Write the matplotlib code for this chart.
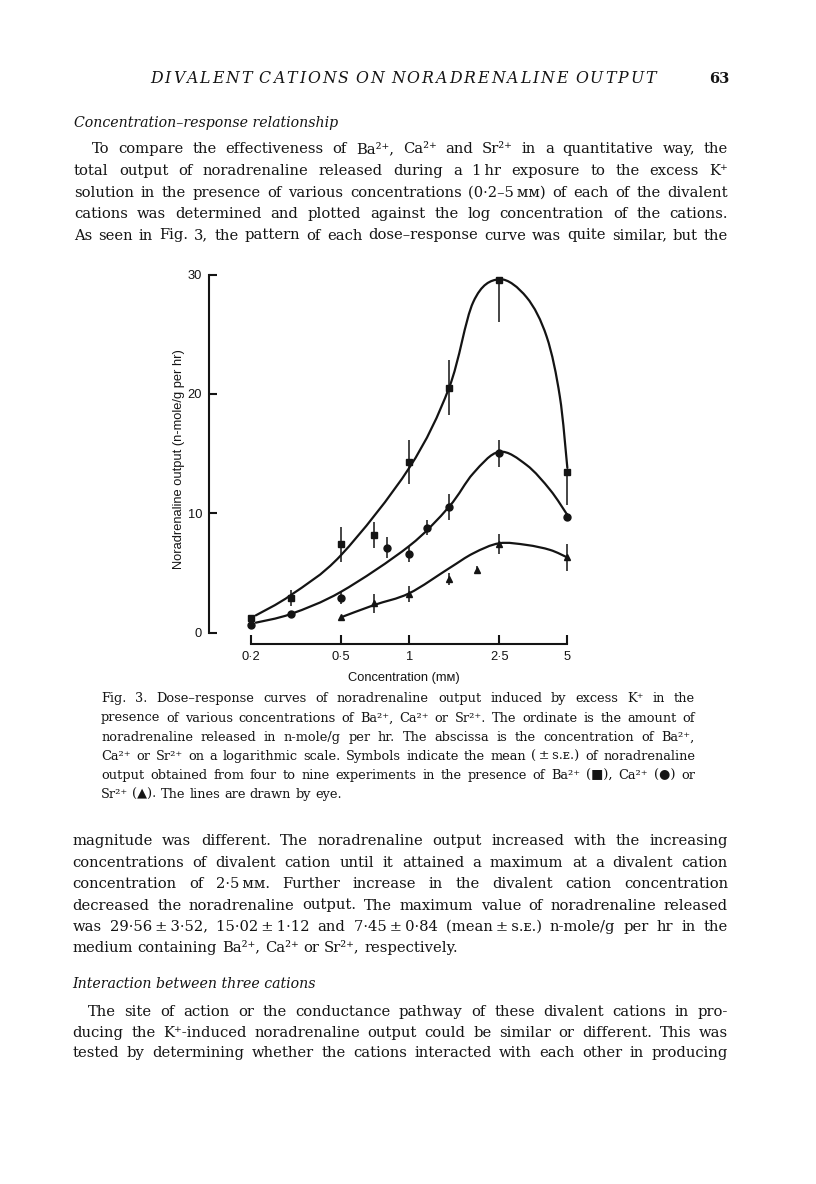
import numpy as np
import matplotlib
matplotlib.use('Agg')
import matplotlib.pyplot as plt
from matplotlib.path import Path
from matplotlib.patches import PathPatch

# ---------------- data ----------------
conc_ba = [0.2, 0.3, 0.5, 0.7, 1.0, 1.5, 2.5, 5.0]
out_ba = [1.2, 2.9, 7.4, 8.2, 14.3, 20.5, 29.56, 13.5]
se_ba_lo = [0.0, 0.65, 1.45, 1.1, 1.84, 2.3, 3.52, 2.8]
se_ba_hi = [0.0, 0.65, 1.45, 1.1, 1.84, 2.3, 0.0, 0.0]

conc_ca = [0.2, 0.3, 0.5, 0.8, 1.0, 1.2, 1.5, 2.5, 5.0]
out_ca = [0.65, 1.55, 2.9, 7.1, 6.55, 8.8, 10.5, 15.02, 9.7]
se_ca = [0.0, 0.25, 0.5, 0.88, 0.63, 0.6, 1.09, 1.12, 0.35]

conc_sr = [0.5, 0.7, 1.0, 1.5, 2.0, 2.5, 5.0]
out_sr = [1.3, 2.45, 3.25, 4.5, 5.25, 7.45, 6.3]
se_sr = [0.0, 0.78, 0.7, 0.5, 0.3, 0.84, 1.17]

# lines "drawn by eye" (knots)
curve_ba_x = [0.21, 0.3, 0.5, 1.0, 1.5, 1.92, 2.5, 3.3, 4.05, 4.63, 5.0]
curve_ba_y = [1.45, 3.15, 6.5, 13.8, 20.5, 27.7, 29.6, 28.1, 24.8, 19.8, 13.8]
curve_ca_x = [0.21, 0.3, 0.5, 1.0, 1.5, 1.92, 2.5, 3.3, 4.2, 5.0]
curve_ca_y = [0.84, 1.57, 3.43, 7.26, 10.55, 13.35, 15.15, 14.05, 11.95, 9.86]
curve_sr_x = [0.5, 0.7, 1.0, 1.5, 1.92, 2.5, 3.3, 4.2, 5.0]
curve_sr_y = [1.29, 2.32, 3.3, 5.39, 6.65, 7.49, 7.35, 6.93, 6.3]

xticks = [0.2, 0.5, 1, 2.5, 5]
xticklabels = ['0·2', '0·5', '1', '2·5', '5']
yticks = [0, 10, 20, 30]

header = "DIVALENT CATIONS ON NORADRENALINE OUTPUT"
page_no = "63"
head1 = "Concentration–response relationship"
para1 = [
    "To compare the effectiveness of Ba²⁺, Ca²⁺ and Sr²⁺ in a quantitative way, the",
    "total output of noradrenaline released during a 1\u2009hr exposure to the excess K⁺",
    "solution in the presence of various concentrations (0·2–5\u2009ᴍᴍ) of each of the divalent",
    "cations was determined and plotted against the log concentration of the cations.",
    "As seen in Fig. 3, the pattern of each dose–response curve was quite similar, but the",
]
caption = [
    "Fig. 3. Dose–response curves of noradrenaline output induced by excess K⁺ in the",
    "presence of various concentrations of Ba²⁺, Ca²⁺ or Sr²⁺. The ordinate is the amount of",
    "noradrenaline released in n-mole/g per hr. The abscissa is the concentration of Ba²⁺,",
    "Ca²⁺ or Sr²⁺ on a logarithmic scale. Symbols indicate the mean (\u2009±\u2009s.ᴇ.) of noradrenaline",
    "output obtained from four to nine experiments in the presence of Ba²⁺ (■), Ca²⁺ (●) or",
    "Sr²⁺ (▲). The lines are drawn by eye.",
]
para2 = [
    "magnitude was different. The noradrenaline output increased with the increasing",
    "concentrations of divalent cation until it attained a maximum at a divalent cation",
    "concentration of 2·5\u2009ᴍᴍ. Further increase in the divalent cation concentration",
    "decreased the noradrenaline output. The maximum value of noradrenaline released",
    "was 29·56\u2009±\u20093·52, 15·02\u2009±\u20091·12 and 7·45\u2009±\u20090·84 (mean\u2009±\u2009s.ᴇ.) n-mole/g per hr in the",
    "medium containing Ba²⁺, Ca²⁺ or Sr²⁺, respectively.",
]
head2 = "Interaction between three cations"
para3 = [
    "The site of action or the conductance pathway of these divalent cations in pro-",
    "ducing the K⁺-induced noradrenaline output could be similar or different. This was",
    "tested by determining whether the cations interacted with each other in producing",
]

# ---------------- figure ----------------
W, H = 816, 1184
plt.rcParams['font.family'] = ['Liberation Sans', 'DejaVu Sans']
fig = plt.figure(figsize=(W / 100, H / 100), dpi=100)
fig.patch.set_facecolor('white')
renderer = fig.canvas.get_renderer()
INK = '#141414'
SERIF = ['DejaVu Serif', 'DejaVu Sans']


def fx(x):
    return x / W


def fy(y):
    return 1 - y / H


def tw(s, **kw):
    t = fig.text(0, 0, s, **kw)
    w = t.get_window_extent(renderer).width
    t.remove()
    return w


def put_line(s, x0, x1, y, justify=True, **kw):
    words = s.split(' ')
    ws = [tw(w, **kw) for w in words]
    space = tw('a a', **kw) - tw('aa', **kw)
    if justify and len(words) > 1:
        gap = max((x1 - x0 - sum(ws)) / (len(words) - 1), 2.0)
    else:
        gap = space
    x = x0
    for w, wd in zip(words, ws):
        fig.text(fx(x), fy(y), w, va='baseline', ha='left', **kw)
        x += wd + gap


# header (letter-spaced italic capitals)
hkw = dict(fontsize=11.3, style='italic', family=SERIF, color=INK)
hwords = header.split(' ')
cw = [[tw(c, **hkw) for c in w] for w in hwords]
S = sum(sum(c) for c in cw)
spw = tw('A A', **hkw) - tw('AA', **hkw)
nslots = sum(len(w) - 1 for w in hwords) + len(hwords) - 1
track = (656 - 150 - S - (len(hwords) - 1) * spw) / nslots
x = 150
for w, ws in zip(hwords, cw):
    for c, wd in zip(w, ws):
        fig.text(fx(x), fy(83.3), c, va='baseline', ha='left', **hkw)
        x += wd + track
    x += spw
fig.text(fx(729), fy(83.3), page_no, va='baseline', ha='right', fontsize=10.5,
         fontweight='bold', family=SERIF, color=INK)

bkw = dict(fontsize=10.6, family=SERIF, color=INK)
hdkw = dict(fontsize=10.2, family=SERIF, color=INK, style='italic')
fig.text(fx(74), fy(127.3), head1, va='baseline', ha='left', **hdkw)
p1_y = [153.3, 175.4, 196.8, 218.3, 239.5]
for i, (s, y) in enumerate(zip(para1, p1_y)):
    put_line(s, 92 if i == 0 else 74, 728, y, **bkw)

# caption
ckw = dict(fontsize=9.3, family=SERIF, color=INK)
cap_y = [702.3, 721.5, 740.7, 760.0, 779.2, 798.3]
for i, (s, y) in enumerate(zip(caption, cap_y)):
    put_line(s, 101, 695, y, justify=(i < len(caption) - 1), **ckw)

p2_y = [845.0, 866.7, 888.2, 909.5, 930.6, 951.6]
for i, (s, y) in enumerate(zip(para2, p2_y)):
    put_line(s, 72.5, 728, y, justify=(i < len(para2) - 1), **bkw)

fig.text(fx(72.5), fy(988.3), head2, va='baseline', ha='left', **hdkw)
p3_y = [1016.0, 1036.8, 1057.3]
for i, (s, y) in enumerate(zip(para3, p3_y)):
    put_line(s, 88 if i == 0 else 72.5, 728, y, **bkw)

# ---------------- chart ----------------
L, R, T, B = 209, 580, 270, 644
ax = fig.add_axes([fx(L), fy(B), (R - L) / W, (B - T) / H])
ax.set_facecolor('none')
ax.set_xscale('log')
ppd = 226.3
ax.set_xlim(0.2 * 10 ** ((L - 251) / ppd), 0.2 * 10 ** ((R - 251) / ppd))
ypu = 11.94
ax.set_ylim((632.7 - B) / ypu, (632.7 - T) / ypu)

for side in ['top', 'right']:
    ax.spines[side].set_visible(False)
ax.spines['left'].set_bounds(0, 30)
ax.spines['bottom'].set_bounds(0.2, 5)
for side in ['left', 'bottom']:
    ax.spines[side].set_linewidth(1.5)
    ax.spines[side].set_color(INK)

ax.set_xticks(xticks)
ax.set_xticklabels(xticklabels)
ax.xaxis.set_minor_locator(matplotlib.ticker.NullLocator())
ax.set_yticks(yticks)
ax.set_yticklabels([str(v) for v in yticks])
ax.tick_params(axis='both', direction='in', width=1.5, color=INK, labelsize=9.3,
               labelcolor=INK)
ax.tick_params(axis='x', length=6.5, pad=5.0)
ax.tick_params(axis='y', length=5.8, pad=5.0)


def smooth_curve(xs, ys):
    lx = np.log10(np.asarray(xs, float))
    yy = np.asarray(ys, float)
    P = np.column_stack([lx, yy])
    n = len(P)
    verts = [P[0]]
    codes = [Path.MOVETO]
    for i in range(n - 1):
        p0 = P[max(i - 1, 0)]
        p1 = P[i]
        p2 = P[i + 1]
        p3 = P[min(i + 2, n - 1)]
        c1 = p1 + (p2 - p0) / 6.0
        c2 = p2 - (p3 - p1) / 6.0
        verts += [c1, c2, p2]
        codes += [Path.CURVE4] * 3
    V = np.array(verts)
    V[:, 0] = 10 ** V[:, 0]
    return PathPatch(Path(V, codes), facecolor='none', edgecolor=INK, lw=1.6,
                     transform=ax.transData, zorder=2, capstyle='round')


for cx, cy in [(curve_ba_x, curve_ba_y), (curve_ca_x, curve_ca_y), (curve_sr_x, curve_sr_y)]:
    ax.add_patch(smooth_curve(cx, cy))

ax.errorbar(conc_ba, out_ba, yerr=[se_ba_lo, se_ba_hi], fmt='none', ecolor=INK,
            elinewidth=1.1, capsize=0, zorder=3)
ax.errorbar(conc_ca, out_ca, yerr=se_ca, fmt='none', ecolor=INK,
            elinewidth=1.1, capsize=0, zorder=3)
ax.errorbar(conc_sr, out_sr, yerr=se_sr, fmt='none', ecolor=INK,
            elinewidth=1.1, capsize=0, zorder=3)
ax.plot(conc_ba, out_ba, 's', ms=4.4, color=INK, zorder=4)
ax.plot(conc_ca, out_ca, 'o', ms=5.0, color=INK, zorder=4)
ax.plot(conc_sr, out_sr, '^', ms=4.8, color=INK, zorder=4)

fig.text(fx(179), fy(459), "Noradrenaline output (n-mole/g per hr)", rotation=90,
         ha='center', va='center', fontsize=9.3, color=INK)
fig.text(fx(404), fy(681), "Concentration (mᴍ)", ha='center', va='baseline',
         fontsize=9.3, color=INK)

fig.savefig('out.png', dpi=100, facecolor='white')
